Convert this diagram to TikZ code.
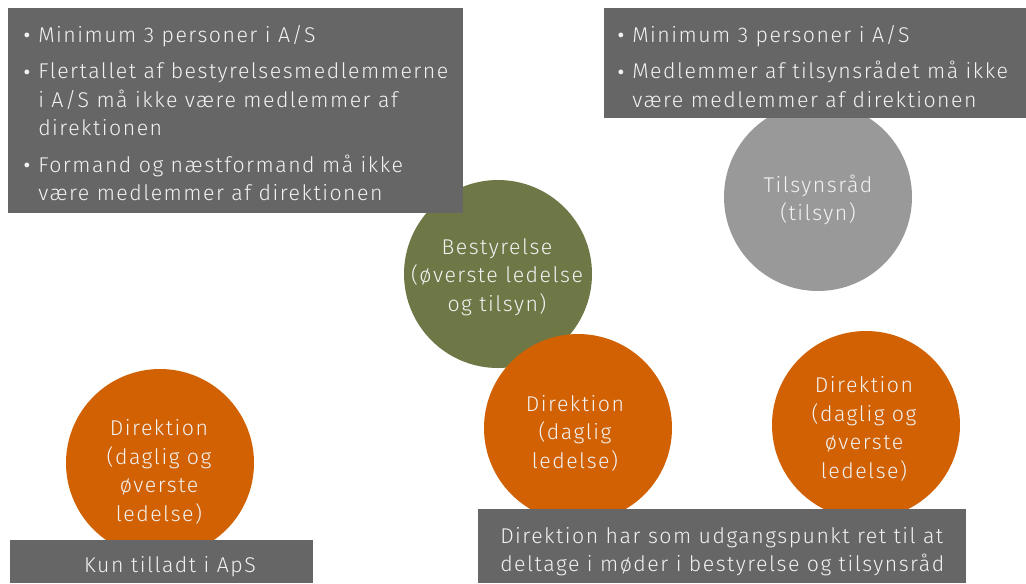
\documentclass[tikz,border=0pt]{standalone}
\usepackage{fontspec}
\setmainfont{Fira Sans}[UprightFont=* Light, BoldFont=* Regular, LetterSpace=7]
\definecolor{boxgray}{HTML}{666666}
\definecolor{lightgray}{HTML}{999999}
\definecolor{olive}{HTML}{6E7746}
\definecolor{burnt}{HTML}{D16102}
\definecolor{txt}{HTML}{F2F2F2}
\newcommand{\bul}{\makebox[12pt][l]{\raisebox{-3.4pt}{\scalebox{1.5}{\textbullet}}}}
\begin{document}
\begin{tikzpicture}[x=0.75pt,y=-0.75pt,
  panel/.style={fill=boxgray, draw=none, inner sep=0pt, rectangle},
  disc/.style={circle, draw=none, inner sep=0pt, minimum size=141pt},
  label/.style={text=txt, inner sep=0pt, font=\fontsize{16}{21.4}\selectfont},
  ctext/.style={label, align=center}]
\useasboundingbox (0,0) rectangle (1026,583);
% Tilsynsraad
\node[disc, fill=lightgray] (tils) at (818,197) {};
\node[ctext] (tils-t) at (818,200) {Tilsynsråd\\(tilsyn)};
\node[panel, minimum width=316.5pt, minimum height=82.5pt] (box2) at (815,63) {};
\node[label, anchor=base west] (box2-t) at (616,42) {%
\begin{tabular}[t]{@{}l@{}l@{}}
\bul & Minimum 3 personer i A/S\\[6pt]
\bul & Medlemmer af tilsynsrådet må ikke\\
     & være medlemmer af direktionen
\end{tabular}};
% Bestyrelse
\node[disc, fill=olive] (best) at (498,274) {};
\node[ctext] (best-t) at (497,277) {Bestyrelse\\(øverste ledelse\\og tilsyn)};
\node[panel, minimum width=341.25pt, minimum height=153.75pt] (box1) at (235.5,110.5) {};
\node[label, anchor=base west] (box1-t) at (22,42) {%
\begin{tabular}[t]{@{}l@{}l@{}}
\bul & Minimum 3 personer i A/S\\[6pt]
\bul & Flertallet af bestyrelsesmedlemmerne\\
     & i A/S må ikke være medlemmer af\\
     & direktionen\\[6pt]
\bul & Formand og næstformand må ikke\\
     & være medlemmer af direktionen
\end{tabular}};
% Direktion circles
\node[disc, fill=burnt] (dmid) at (578,428) {};
\node[ctext] (dmid-t) at (575,433) {Direktion\\(daglig\\ledelse)};
\node[disc, fill=burnt] (dright) at (866,425) {};
\node[ctext] (dright-t) at (864,429) {Direktion\\(daglig og\\øverste\\ledelse)};
\node[disc, fill=burnt] (dleft) at (160,463) {};
\node[ctext] (dleft-t) at (159,472) {Direktion\\(daglig og\\øverste\\ledelse)};
% bottom panels
\node[panel, minimum width=227.25pt, minimum height=32.25pt] (box3) at (161.5,561.5) {};
\node[label, anchor=base] (box3-t) at (170,572) {Kun tilladt i ApS};
\node[panel, minimum width=366pt, minimum height=55.5pt] (box4) at (722,546) {};
\node[label, anchor=base west] (box4-t) at (500,543) {%
\begin{tabular}[t]{@{}l@{}}
Direktion har som udgangspunkt ret til at\\
deltage i møder i bestyrelse og tilsynsråd
\end{tabular}};
\end{tikzpicture}
\end{document}
